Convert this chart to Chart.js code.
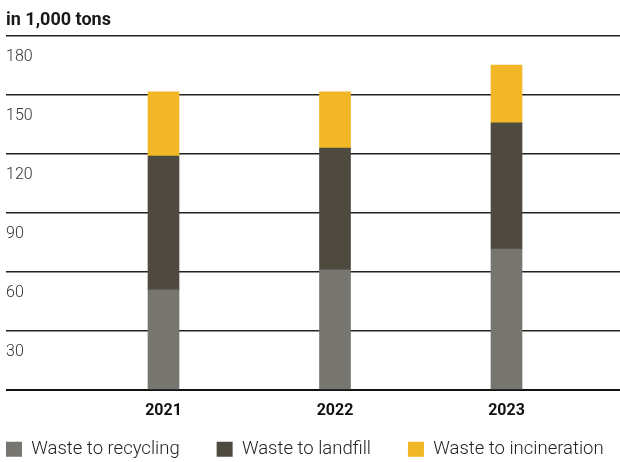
<!DOCTYPE html>
<html>
<head>
<meta charset="utf-8">
<script src="https://cdn.jsdelivr.net/npm/chart.js@4"></script>
<style>
  html, body { margin: 0; padding: 0; background: #ffffff; }
  #wrap { width: 620px; height: 462px; }
</style>
</head>
<body>
<div id="wrap"><canvas id="c" width="620" height="462"></canvas></div>
<script>
// ---- data ----
const categories = ['2021', '2022', '2023'];
const seriesNames = ['Waste to recycling', 'Waste to landfill', 'Waste to incineration'];
const recycling = [50.8, 61.0, 71.6];
const landfill = [68.0, 61.8, 64.1];
const incineration = [32.6, 28.6, 29.3];
const yTicks = [0, 30, 60, 90, 120, 150, 180];
const titleText = 'in 1,000 tons';

// ---- style ----
const colors = ['#76756f', '#4e4a3f', '#f2b726'];
const LEGEND_H = 42;
const XAXIS_H = 30;
const LEGEND_GAP = 13;

const xs = categories.map(Number);
const toPoints = arr => arr.map((v, i) => ({ x: xs[i], y: v }));
const seriesValues = [recycling, landfill, incineration];

Chart.defaults.font.family = 'Roboto, "Open Sans", sans-serif';

const legendLayout = {
  id: 'legendLayout',
  beforeInit(chart) {
    const lg = chart.legend;
    if (!lg) return;
    const origFit = lg.fit;
    lg.fit = function () {
      const mw = this.maxWidth;
      this.maxWidth = 100000;
      origFit.call(this);
      this.maxWidth = mw;
      this.width = mw;
      this.height = LEGEND_H;
    };
  },
  afterLayout(chart) {
    const lg = chart.legend;
    if (!lg) return;
    const pad = lg.options.labels.padding;
    lg.left = chart.chartArea.left - pad;
    lg.right = chart.width + 100000;
    lg.top = chart.chartArea.bottom + LEGEND_GAP;
    lg.bottom = chart.height;
  }
};

new Chart(document.getElementById('c'), {
  type: 'bar',
  data: {
    datasets: seriesValues.map((vals, i) => ({
      label: seriesNames[i],
      data: toPoints(vals),
      backgroundColor: colors[i],
      borderWidth: 0,
      barThickness: 31
    }))
  },
  options: {
    responsive: false,
    animation: false,
    layout: { padding: { left: 6, right: 0, top: 0, bottom: 0 } },
    scales: {
      x: {
        type: 'linear',
        stacked: true,
        offset: false,
        min: 2020.0816,
        max: 2023.6618,
        grid: { display: false, drawTicks: false, offset: false },
        border: { display: false },
        afterBuildTicks(scale) {
          scale.ticks = xs.map(v => ({ value: v }));
        },
        afterFit(scale) { scale.height = XAXIS_H; },
        ticks: {
          padding: 11,
          maxRotation: 0,
          autoSkip: false,
          color: '#111111',
          font: { size: 16, weight: 'bold' },
          callback: (v) => categories[xs.indexOf(v)]
        }
      },
      y: {
        stacked: true,
        min: 0,
        max: 180,
        afterBuildTicks(scale) {
          scale.ticks = yTicks.map(v => ({ value: v }));
        },
        grid: {
          drawTicks: false,
          color: (ctx) => ctx.tick && ctx.tick.value === 0 ? '#111111' : '#222220',
          lineWidth: (ctx) => ctx.tick && ctx.tick.value === 0 ? 2 : 1.5
        },
        border: { display: false },
        ticks: {
          mirror: true,
          padding: 0,
          labelOffset: 21,
          color: '#333333',
          font: { size: 16, weight: '300' },
          callback: (v) => v === 0 ? '' : String(v)
        }
      }
    },
    plugins: {
      tooltip: { enabled: false },
      title: {
        display: true,
        text: titleText,
        align: 'start',
        color: '#1a1a1a',
        font: { size: 18, weight: 'bold' },
        padding: { top: 10, bottom: 3.9 }
      },
      legend: {
        position: 'bottom',
        align: 'start',
        labels: {
          boxWidth: 16,
          boxHeight: 15,
          padding: 37,
          color: '#222222',
          font: { size: 18.5, weight: '300' }
        }
      }
    }
  },
  plugins: [legendLayout]
});
</script>
</body>
</html>
